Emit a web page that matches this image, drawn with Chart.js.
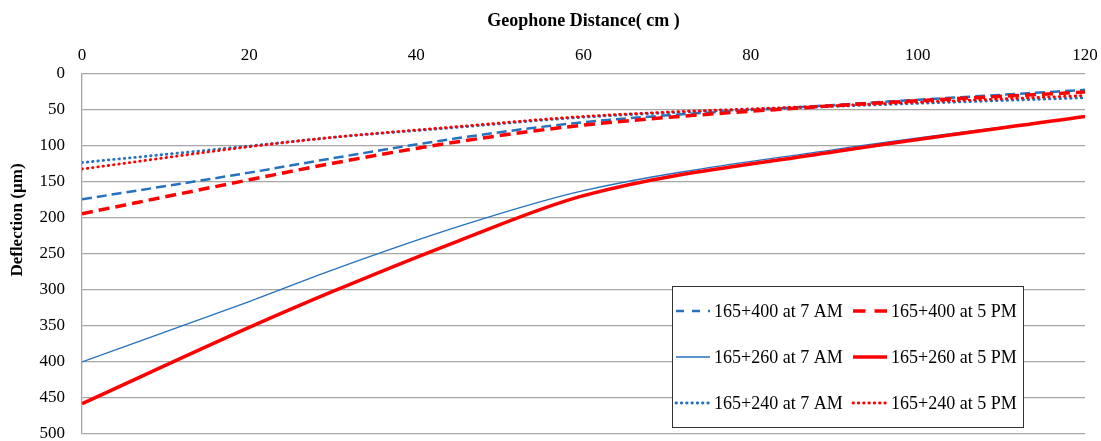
<!DOCTYPE html>
<html>
<head>
<meta charset="utf-8">
<script src="https://cdn.jsdelivr.net/npm/chart.js@4.4.1/dist/chart.umd.min.js"></script>
<style>
  html, body { margin: 0; padding: 0; background: #fff; }
  #wrap { width: 1101px; height: 441px; }
</style>
</head>
<body>
<div id="wrap"><canvas id="deflexionChart"></canvas></div>
<script>
// Datos (distancia de geófonos en cm, deflexión en µm)
const distancias = [0, 20, 30, 45, 60, 90, 120];
const s400Am = [174, 137, 117, 89, 67, 43, 22];
const s400Pm = [194, 147, 124, 94, 71, 44, 25];
const s260Am = [400, 316, 272, 212, 162, 105, 59];
const s260Pm = [458, 352, 302, 232, 169, 108, 59];
const s240Am = [123, 100, 88, 74, 60, 45, 33];
const s240Pm = [132, 101, 88, 73, 59, 44, 30];
const etiquetas = ['165+400 at 7 AM', '165+400 at 5 PM', '165+260 at 7 AM', '165+260 at 5 PM', '165+240 at 7 AM', '165+240 at 5 PM'];
const tituloX = 'Geophone Distance( cm )';
const tituloY = 'Deflection (µm)';

const AZUL = '#2672BE';
const ROJO = '#FF0000';
const serif = "'Liberation Serif', 'Times New Roman', serif";

function puntos(valores) {
    return distancias.map((d, i) => ({ x: d, y: valores[i] }));
}

const series = [
    { label: etiquetas[0], data: puntos(s400Am), borderColor: AZUL, borderWidth: 2.5, borderDash: [10, 5], order: 6, dashLeyenda: [8, 8] },
    { label: etiquetas[1], data: puntos(s400Pm), borderColor: ROJO, borderWidth: 3.5, borderDash: [11, 6], order: 3, dashLeyenda: [12.5, 9] },
    { label: etiquetas[2], data: puntos(s260Am), borderColor: AZUL, borderWidth: 1.3, borderDash: [], order: 5 },
    { label: etiquetas[3], data: puntos(s260Pm), borderColor: ROJO, borderWidth: 3.5, borderDash: [], order: 2 },
    { label: etiquetas[4], data: puntos(s240Am), borderColor: AZUL, borderWidth: 2.8, borderDash: [0.5, 4.8], borderCapStyle: 'round', order: 4 },
    { label: etiquetas[5], data: puntos(s240Pm), borderColor: ROJO, borderWidth: 2.8, borderDash: [0.5, 4.8], borderCapStyle: 'round', order: 1 }
];

// Leyenda dentro del área del gráfico, con recuadro, y título del eje Y
const leyendaCaja = {
    id: 'leyendaCaja',
    afterDraw(chart) {
        const ctx = chart.ctx;
        const x0 = 672, y0 = 286, w = 351, h = 141;
        ctx.save();
        ctx.fillStyle = '#fff';
        ctx.fillRect(x0, y0, w, h);
        ctx.strokeStyle = '#333';
        ctx.lineWidth = 1;
        ctx.strokeRect(x0 + 0.5, y0 + 0.5, w, h);
        ctx.font = '18px ' + serif;
        ctx.fillStyle = '#000';
        ctx.textBaseline = 'middle';
        const filas = [311, 357, 403];
        const columnas = [676, 853];
        chart.data.datasets.forEach((ds, i) => {
            const fila = filas[Math.floor(i / 2)];
            const col = columnas[i % 2];
            ctx.beginPath();
            ctx.strokeStyle = ds.borderColor;
            ctx.lineWidth = ds.borderWidth;
            ctx.lineCap = ds.borderCapStyle || 'butt';
            ctx.setLineDash(ds.dashLeyenda || ds.borderDash || []);
            ctx.moveTo(col, fila);
            ctx.lineTo(col + 34, fila);
            ctx.stroke();
            ctx.setLineDash([]);
            ctx.fillText(ds.label, col + 38, fila + 1);
        });

        // título del eje Y (Excel lo coloca algo por encima del centro)
        ctx.translate(18, 220);
        ctx.rotate(-Math.PI / 2);
        ctx.textAlign = 'center';
        ctx.font = 'bold 17px ' + serif;
        ctx.fillText(tituloY, 0, 0);
        ctx.restore();
    }
};

const deflexionChart = new Chart(
    document.getElementById('deflexionChart'),
    {
        type: 'line',
        data: { datasets: series },
        options: {
            responsive: true,
            maintainAspectRatio: false,
            animation: false,
            elements: {
                point: { radius: 0 },
                line: { cubicInterpolationMode: 'monotone', fill: false }
            },
            plugins: {
                legend: { display: false },
                tooltip: { enabled: false }
            },
            layout: {
                padding: { top: 0, right: 16, bottom: 7, left: 0 }
            },
            scales: {
                x: {
                    type: 'linear',
                    position: 'top',
                    min: 0,
                    max: 120,
                    ticks: {
                        stepSize: 20,
                        color: '#000',
                        font: { size: 17, family: serif },
                        padding: 0
                    },
                    grid: { display: false },
                    border: { display: false },
                    title: {
                        display: true,
                        text: tituloX,
                        color: '#000',
                        font: { size: 18, weight: 'bold', family: serif },
                        padding: { top: 11, bottom: 0 }
                    },
                    afterFit(scale) {
                        scale.height = 74;
                        scale.paddingLeft = 0;
                        scale.paddingRight = 0;
                    }
                },
                y: {
                    type: 'linear',
                    reverse: true,
                    min: 0,
                    max: 500,
                    ticks: {
                        stepSize: 50,
                        color: '#000',
                        font: { size: 17, family: serif },
                        padding: 17
                    },
                    grid: {
                        color: '#A6A6A6',
                        lineWidth: 1.3,
                        drawTicks: false
                    },
                    border: { display: true, color: '#A6A6A6', width: 1.3 },
                    afterFit(scale) {
                        scale.width = 82;
                        scale.paddingTop = 0;
                        scale.paddingBottom = 0;
                    }
                }
            }
        },
        plugins: [leyendaCaja]
    }
);
</script>
</body>
</html>
